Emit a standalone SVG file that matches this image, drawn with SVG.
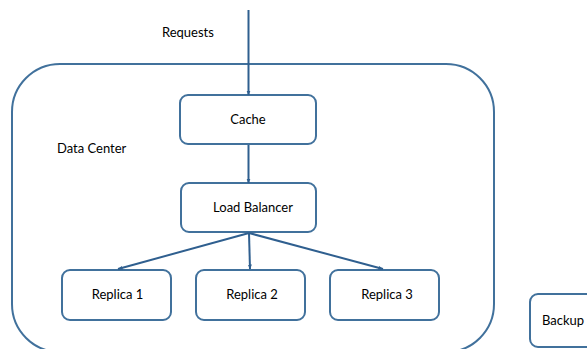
<svg xmlns="http://www.w3.org/2000/svg" width="587" height="349" viewBox="0 0 587 349">
<defs>
<marker id="ah" viewBox="0 0 10 10" refX="9" refY="5" markerWidth="5" markerHeight="5" orient="auto" markerUnits="userSpaceOnUse">
<path d="M0,1 L10,5 L0,9 z" fill="#2f5f8f"/>
</marker>
<style>
.box{fill:#fff;stroke:#41719c;stroke-width:2}
.ctr{fill:none;stroke:#41719c;stroke-width:2}
.lbl{font-family:Lato,"Open Sans",sans-serif;font-size:13px;fill:#000}
.edge{stroke:#2f5f8f;stroke-width:2;fill:none;marker-end:url(#ah)}
</style>
</defs>
<rect width="587" height="349" fill="#fff"/>
<g id="datacenter">
<rect class="ctr" x="12" y="64" width="482" height="288" rx="48" ry="48"/>
<text class="lbl" x="57" y="153">Data Center</text>
</g>
<text class="lbl" x="162" y="37">Requests</text>
<g id="cache">
<rect class="box" x="180" y="95" width="136" height="49" rx="8"/>
<text class="lbl" x="248" y="124" text-anchor="middle">Cache</text>
</g>
<g id="loadbalancer">
<rect class="box" x="181" y="183" width="135" height="49" rx="8"/>
<text class="lbl" x="253" y="212" text-anchor="middle">Load Balancer</text>
</g>
<g id="replica1">
<rect class="box" x="62" y="270" width="109" height="50" rx="8"/>
<text class="lbl" x="117.5" y="299" text-anchor="middle">Replica 1</text>
</g>
<g id="replica2">
<rect class="box" x="196" y="270" width="109" height="50" rx="8"/>
<text class="lbl" x="252" y="299" text-anchor="middle">Replica 2</text>
</g>
<g id="replica3">
<rect class="box" x="330" y="270" width="109" height="50" rx="8"/>
<text class="lbl" x="387" y="299" text-anchor="middle">Replica 3</text>
</g>
<g id="backup">
<rect class="box" x="530" y="294" width="70" height="53" rx="8"/>
<text class="lbl" x="542" y="325">Backup</text>
</g>
<g id="connectors">
<line class="edge" x1="248.5" y1="10" x2="248.5" y2="95"/>
<line class="edge" x1="248.5" y1="145" x2="248.5" y2="183"/>
<line class="edge" x1="249" y1="233" x2="118" y2="269"/>
<line class="edge" x1="249" y1="233" x2="250" y2="269"/>
<line class="edge" x1="249" y1="233" x2="383" y2="269"/>
</g>
</svg>
